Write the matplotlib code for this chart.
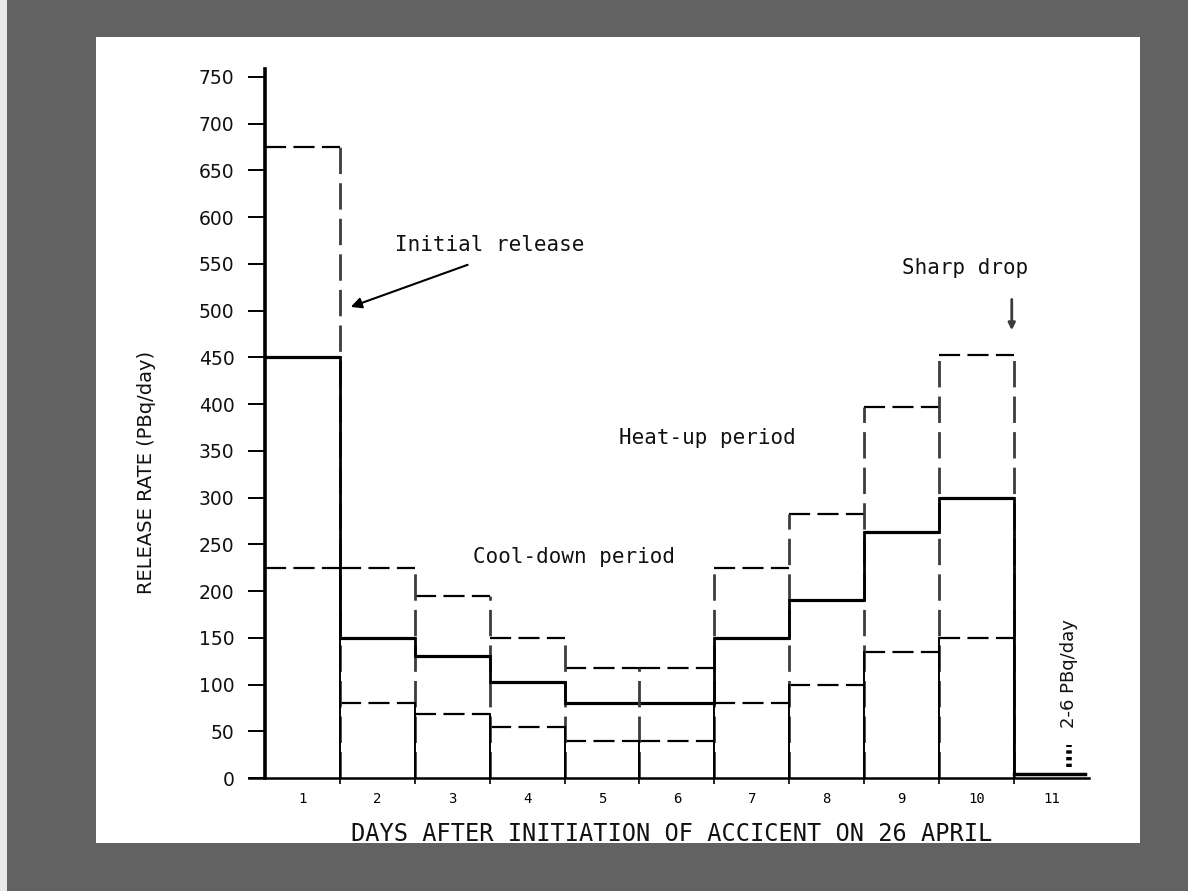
import matplotlib
matplotlib.use("Agg")
import matplotlib.pyplot as plt
from matplotlib.patches import Rectangle

# ---- data ----
days = [1, 2, 3, 4, 5, 6, 7, 8, 9, 10]
rate_mid = [450, 150, 130, 103, 80, 80, 150, 190, 263, 300]
rate_high = [675, 225, 195, 150, 118, 118, 225, 282, 397, 452]
rate_low = [225, 80, 68, 55, 40, 40, 80, 100, 135, 150]
day11 = 11
day11_rate = 4            # 2-6 PBq/day
y_ticks = list(range(0, 751, 50))
x_labels = [str(d) for d in range(1, 12)]

W, H, DPI = 1188, 891, 100
fig = plt.figure(figsize=(W / DPI, H / DPI), dpi=DPI)
fig.patch.set_facecolor("#626262")
# white sheet of the scan
fig.patches.append(Rectangle((96 / W, 1 - 843 / H), 1044 / W, 806 / H,
                             transform=fig.transFigure, facecolor="white",
                             edgecolor="none", zorder=-5))
fig.patches.append(Rectangle((0, 0), 7 / W, 1, transform=fig.transFigure,
                             facecolor="#e8e8e8", edgecolor="none", zorder=-5))

ax = fig.add_axes([248.5 / W, 113 / H, 840.4 / W, 710.4 / H])
ax.set_zorder(5)
ax.patch.set_visible(False)
ax.set_xlim(0.28, 11.5)
ax.set_ylim(0, 760)

DASH = (0, (9.5, 3.3))
K = "black"
G = "#3c3c3c"

# horizontal levels
for d, m, hi, lo in zip(days, rate_mid, rate_high, rate_low):
    ax.plot([d - 0.5, d + 0.5], [hi, hi], color=K, lw=1.6, ls=DASH)
    ax.plot([d - 0.5, d + 0.5], [lo, lo], color=K, lw=1.6, ls=DASH)
    ax.plot([d - 0.5, d + 0.5], [m, m], color=K, lw=2.3, solid_capstyle="butt")
# day 11: near-zero release
ax.plot([day11 - 0.5, day11 + 0.45], [day11_rate, day11_rate], color=K, lw=2.5,
        clip_on=False)

# vertical edges between days
mids = rate_mid + [day11_rate]
highs = rate_high + [day11_rate]
lows = rate_low + [day11_rate]
for i in range(len(days)):
    e = days[i] + 0.5
    top = max(highs[i], highs[i + 1])
    low_top = max(lows[i], lows[i + 1])
    ax.plot([e, e], [0, top], color=G, lw=2.0, ls=DASH)
    ax.plot([e, e], [0, low_top], color=K, lw=1.4)
    ax.plot([e, e], [min(mids[i], mids[i + 1]), max(mids[i], mids[i + 1])],
            color=K, lw=2.0)

# axes styling
for s in ("top", "right"):
    ax.spines[s].set_visible(False)
ax.spines["left"].set_position(("data", 0.5))
ax.spines["left"].set_bounds(0, 758)
ax.spines["left"].set_linewidth(2.6)
ax.spines["bottom"].set_position(("data", 0))
ax.spines["bottom"].set_linewidth(1.8)

ax.set_yticks(y_ticks)
ax.set_yticklabels([str(v) for v in y_ticks], fontsize=13.5,
                   family="DejaVu Sans", color="#111111")
ax.tick_params(axis="y", direction="out", length=12, width=1.4, pad=10)

ax.set_xticks(range(1, 12))
ax.set_xticklabels(x_labels, fontsize=10, family="DejaVu Sans Mono")
ax.tick_params(axis="x", which="major", length=0, pad=10)
ax.set_xticks([d + 0.5 for d in days], minor=True)
ax.tick_params(axis="x", which="minor", direction="out", length=4, width=1.2)

fig.text(672 / W, 1 - 834 / H, "DAYS AFTER INITIATION OF ACCICENT ON 26 APRIL",
         fontsize=17, family="DejaVu Sans Mono", ha="center", va="center",
         color="#111111")
fig.text(147 / W, 1 - 472 / H, "RELEASE RATE (PBq/day)", rotation=90,
         fontsize=14, family=["Liberation Sans Narrow", "DejaVu Sans"],
         ha="center", va="center", color="#111111")

# annotations
mono = dict(family="DejaVu Sans Mono", fontsize=15, color="#111111",
            ha="center", va="center")
ax.text(3.50, 570, "Initial release", **mono)
ax.annotate("", xy=(1.61, 503), xytext=(3.24, 550),
            arrowprops=dict(arrowstyle="-|>", lw=1.5, color=K,
                            mutation_scale=16))
ax.text(9.85, 546, "Sharp drop", **mono)
ax.annotate("", xy=(10.47, 476), xytext=(10.47, 515),
            arrowprops=dict(arrowstyle="-|>", lw=2.0, color=G,
                            mutation_scale=10))
ax.text(6.41, 364, "Heat-up period", **mono)
ax.text(4.63, 236, "Cool-down period", **mono)
ax.text(11.23, 112, "2-6 PBq/day", rotation=90, fontsize=13,
        family=["Liberation Sans Narrow", "DejaVu Sans"], ha="center",
        va="center", color="#111111", clip_on=False)
ax.plot([11.24, 11.24], [12, 35], color=K, lw=4, ls=(0, (0.6, 0.6)),
        clip_on=False)

fig.savefig("out.png", dpi=DPI, facecolor=fig.get_facecolor())
